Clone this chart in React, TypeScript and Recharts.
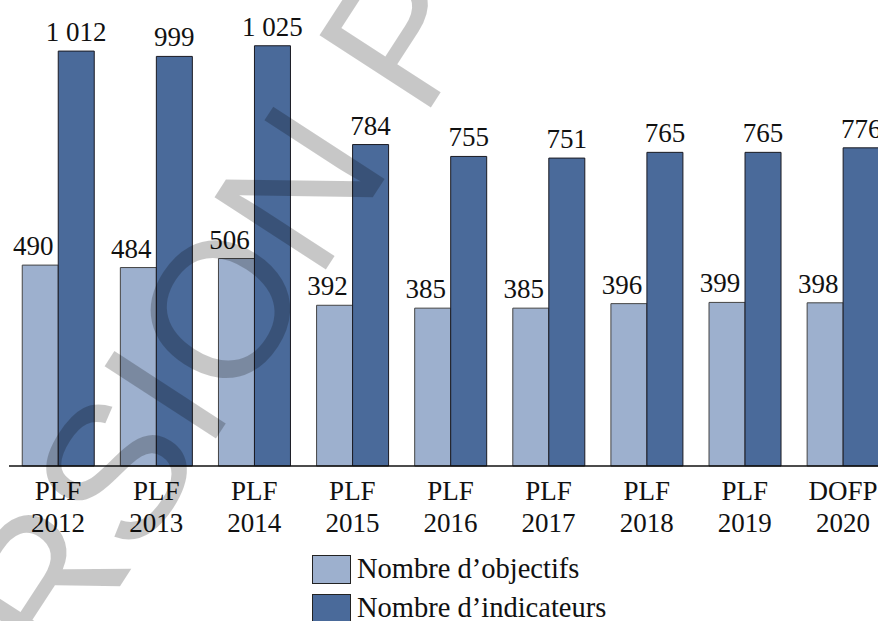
import React from 'react';
import { BarChart, Bar, XAxis, YAxis, LabelList, Legend } from 'recharts';

const exercices = ['PLF 2012', 'PLF 2013', 'PLF 2014', 'PLF 2015', 'PLF 2016', 'PLF 2017', 'PLF 2018', 'PLF 2019', 'DOFP 2020'];
const objectifs = [490, 484, 506, 392, 385, 385, 396, 399, 398];
const indicateurs = [1012, 999, 1025, 784, 755, 751, 765, 765, 776];
const ordreLegende = ['objectifs', 'indicateurs'];

const CLAIR = '#9db0ce';
const FONCE = '#4a6a9a';
const SERIF = '"Liberation Serif", "Times New Roman", serif';

const data = exercices.map((ex, i) => ({
  exercice: ex,
  objectifs: objectifs[i],
  indicateurs: indicateurs[i],
}));

// séparateur de milliers à la française (espace insécable pour éviter le retour à la ligne)
const fmt = (v: any) => String(v).replace(/\B(?=(\d{3})+(?!\d))/g, '\u00a0');

const TickDeuxLignes = ({ x, y, payload }: any) => {
  const [l1, l2] = String(payload.value).split(' ');
  return (
    <text textAnchor="middle" fontFamily={SERIF} fontSize={27} fill="#111">
      <tspan x={x} y={y + 34}>{l1}</tspan>
      <tspan x={x} y={y + 66}>{l2}</tspan>
    </text>
  );
};

const LegendeBoites = ({ payload }: any) => {
  const items = [...(payload || [])].sort(
    (a: any, b: any) => ordreLegende.indexOf(a.dataKey) - ordreLegende.indexOf(b.dataKey)
  );
  return (
    <svg width={320} height={70} style={{ overflow: 'visible' }}>
      {items.map((p: any, i: number) => (
        <g key={p.value}>
          <rect x={0.5} y={i * 39 + 0.5} width={38} height={28} fill={p.color} stroke="#222" strokeWidth={1} />
          <text x={45} y={i * 38.5 + 23} fontFamily={SERIF} fontSize={28.5} fill="#111">
            {p.value}
          </text>
        </g>
      ))}
    </svg>
  );
};

export default function App() {
  return (
    <div style={{ position: 'fixed', left: 0, top: 0, width: 878, height: 621, overflow: 'hidden', background: '#fff' }}>
      <BarChart
        width={892}
        height={621}
        data={data}
        margin={{ top: 15, right: 0, left: 9, bottom: 85 }}
        barCategoryGap="13.5%"
        barGap={0}
      >
        <XAxis
          dataKey="exercice"
          height={70}
          tickLine={false}
          tickSize={0}
          tickMargin={0}
          interval={0}
          axisLine={{ stroke: '#111', strokeWidth: 1.5 }}
          tick={<TickDeuxLignes />}
        />
        <YAxis hide domain={[0, 1100]} />
        <Legend
          layout="vertical"
          align="center"
          verticalAlign="middle"
          wrapperStyle={{ left: 312, top: 555, width: 320, height: 70 }}
          content={<LegendeBoites />}
        />
        <Bar dataKey="objectifs" name="Nombre d’objectifs" fill={CLAIR} stroke="#444" strokeWidth={1} isAnimationActive={false}>
          <LabelList dataKey="objectifs" position="top" offset={10} dx={-7} formatter={fmt} fontFamily={SERIF} fontSize={27} fill="#111" />
        </Bar>
        <Bar dataKey="indicateurs" name="Nombre d’indicateurs" fill={FONCE} stroke="#1a1a22" strokeWidth={1} isAnimationActive={false}>
          <LabelList dataKey="indicateurs" position="top" offset={10} formatter={fmt} fontFamily={SERIF} fontSize={27} fill="#111" />
        </Bar>
      </BarChart>
      {/* filigrane */}
      <svg width={878} height={621} style={{ position: 'absolute', left: 0, top: 0, pointerEvents: 'none' }}>
        <text
          x={440}
          y={-34}
          dy="0.36em"
          textAnchor="middle"
          transform="rotate(-57 440 -34)"
          fontFamily='"Liberation Sans", Arial, sans-serif'
          fontSize={193}
          fill="#000"
          fillOpacity={0.22}
        >
          VERSION PROVISOIRE
        </text>
      </svg>
    </div>
  );
}
